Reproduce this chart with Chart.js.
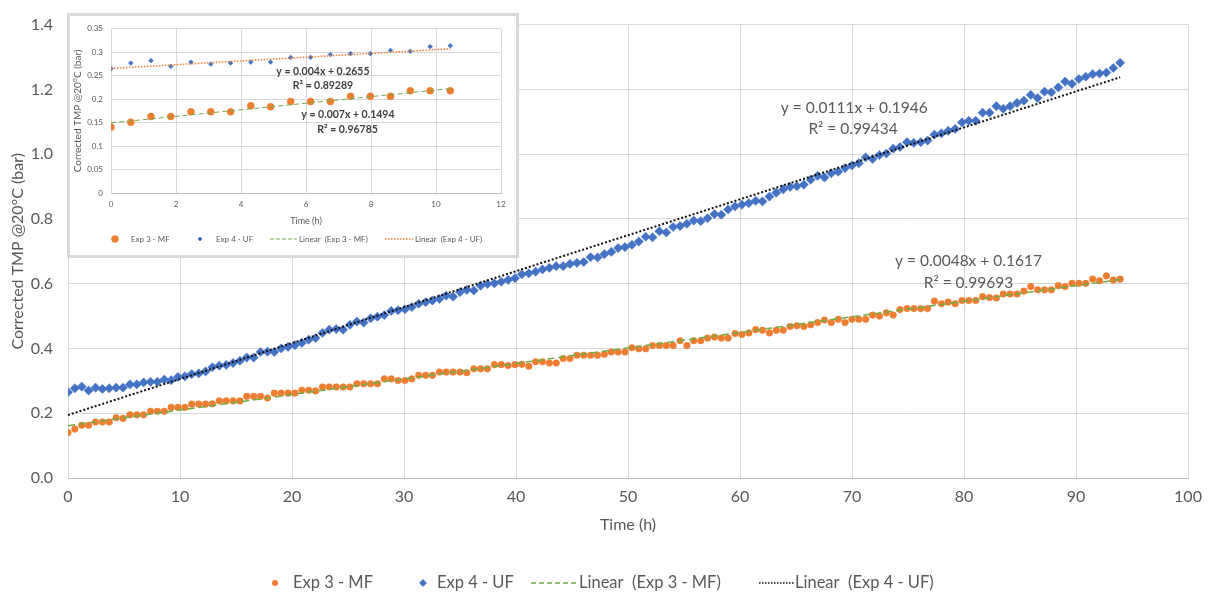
<!DOCTYPE html>
<html>
<head>
<meta charset="utf-8">
<title>Corrected TMP @20°C vs time</title>
<script src="https://cdn.jsdelivr.net/npm/chart.js@4.4.0/dist/chart.umd.min.js"></script>
<style>
  html, body { margin: 0; padding: 0; background: #fff; }
  #wrap { position: relative; width: 1212px; height: 596px; }
  #mainChart { position: absolute; left: 0; top: 0; }
  #insetBox { position: absolute; left: 67px; top: 13px; width: 452px; height: 245px;
              box-sizing: border-box; border: 3px solid #d9d9d9; background: #fff; }
  #insetChart { position: absolute; left: 0; top: 0; }
</style>
</head>
<body>
<div id="wrap">
  <canvas id="mainChart" width="1212" height="596"></canvas>
  <div id="insetBox"><canvas id="insetChart" width="446" height="239"></canvas></div>
</div>
<script>
// readings, one every ~37 min
const timeH = [
  0, 0.61, 1.23, 1.84, 2.46, 3.07, 3.68, 4.30, 4.91, 5.53,
  6.14, 6.75, 7.37, 7.98, 8.60, 9.21, 9.82, 10.44, 11.05, 11.67,
  12.28, 12.89, 13.51, 14.12, 14.74, 15.35, 15.96, 16.58, 17.19, 17.81,
  18.42, 19.03, 19.65, 20.26, 20.88, 21.49, 22.10, 22.72, 23.33, 23.95,
  24.56, 25.17, 25.79, 26.40, 27.02, 27.63, 28.24, 28.86, 29.47, 30.09,
  30.70, 31.31, 31.93, 32.54, 33.16, 33.77, 34.38, 35.00, 35.61, 36.23,
  36.84, 37.45, 38.07, 38.68, 39.30, 39.91, 40.52, 41.14, 41.75, 42.37,
  42.98, 43.59, 44.21, 44.82, 45.44, 46.05, 46.66, 47.28, 47.89, 48.51,
  49.12, 49.73, 50.35, 50.96, 51.58, 52.19, 52.80, 53.42, 54.03, 54.65,
  55.26, 55.87, 56.49, 57.10, 57.72, 58.33, 58.94, 59.56, 60.17, 60.79,
  61.40, 62.01, 62.63, 63.24, 63.86, 64.47, 65.08, 65.70, 66.31, 66.93,
  67.54, 68.15, 68.77, 69.38, 70.00, 70.61, 71.22, 71.84, 72.45, 73.07,
  73.68, 74.29, 74.91, 75.52, 76.14, 76.75, 77.36, 77.98, 78.59, 79.21,
  79.82, 80.43, 81.05, 81.66, 82.28, 82.89, 83.50, 84.12, 84.73, 85.35,
  85.96, 86.57, 87.19, 87.80, 88.42, 89.03, 89.64, 90.26, 90.87, 91.49,
  92.10, 92.71, 93.33, 93.94
];

// Exp 3 - MF, corrected TMP (bar)
const exp3MF = [
  0.140, 0.151, 0.163, 0.163, 0.173, 0.173, 0.173, 0.186, 0.184, 0.195,
  0.195, 0.195, 0.206, 0.206, 0.206, 0.218, 0.218, 0.218, 0.228, 0.228,
  0.228, 0.229, 0.238, 0.238, 0.238, 0.238, 0.252, 0.252, 0.252, 0.247,
  0.262, 0.262, 0.262, 0.262, 0.271, 0.271, 0.269, 0.281, 0.281, 0.281,
  0.281, 0.281, 0.291, 0.291, 0.291, 0.291, 0.306, 0.306, 0.301, 0.301,
  0.306, 0.317, 0.317, 0.317, 0.327, 0.327, 0.327, 0.327, 0.325, 0.337,
  0.337, 0.337, 0.350, 0.350, 0.347, 0.350, 0.351, 0.345, 0.359, 0.359,
  0.355, 0.355, 0.369, 0.369, 0.379, 0.379, 0.379, 0.379, 0.382, 0.389,
  0.389, 0.389, 0.402, 0.399, 0.399, 0.409, 0.409, 0.409, 0.409, 0.424,
  0.409, 0.424, 0.424, 0.432, 0.435, 0.432, 0.432, 0.446, 0.443, 0.448,
  0.458, 0.456, 0.448, 0.456, 0.456, 0.468, 0.470, 0.468, 0.473, 0.480,
  0.488, 0.480, 0.490, 0.480, 0.490, 0.490, 0.490, 0.503, 0.500, 0.510,
  0.503, 0.520, 0.523, 0.523, 0.523, 0.523, 0.546, 0.538, 0.543, 0.538,
  0.548, 0.548, 0.548, 0.560, 0.557, 0.556, 0.568, 0.568, 0.568, 0.577,
  0.591, 0.581, 0.581, 0.581, 0.594, 0.591, 0.601, 0.601, 0.601, 0.614,
  0.609, 0.624, 0.611, 0.614
];

// Exp 4 - UF, corrected TMP (bar)
const exp4UF = [
  0.265, 0.277, 0.282, 0.270, 0.279, 0.275, 0.277, 0.279, 0.279, 0.289,
  0.289, 0.295, 0.297, 0.297, 0.304, 0.302, 0.312, 0.314, 0.321, 0.323,
  0.329, 0.342, 0.347, 0.349, 0.355, 0.362, 0.372, 0.372, 0.389, 0.390,
  0.389, 0.400, 0.405, 0.410, 0.417, 0.427, 0.432, 0.448, 0.458, 0.460,
  0.458, 0.473, 0.483, 0.480, 0.493, 0.498, 0.503, 0.516, 0.518, 0.521,
  0.528, 0.538, 0.543, 0.548, 0.553, 0.563, 0.560, 0.574, 0.581, 0.579,
  0.594, 0.599, 0.601, 0.606, 0.612, 0.617, 0.629, 0.632, 0.637, 0.644,
  0.649, 0.654, 0.654, 0.661, 0.664, 0.667, 0.682, 0.681, 0.691, 0.698,
  0.710, 0.713, 0.720, 0.730, 0.745, 0.743, 0.762, 0.758, 0.775, 0.778,
  0.785, 0.795, 0.793, 0.802, 0.815, 0.813, 0.829, 0.839, 0.844, 0.849,
  0.856, 0.854, 0.869, 0.881, 0.891, 0.899, 0.901, 0.906, 0.921, 0.933,
  0.928, 0.941, 0.946, 0.957, 0.965, 0.972, 0.990, 0.985, 0.997, 1.002,
  1.017, 1.022, 1.037, 1.035, 1.037, 1.042, 1.060, 1.064, 1.072, 1.078,
  1.098, 1.103, 1.103, 1.128, 1.128, 1.148, 1.140, 1.148, 1.158, 1.165,
  1.183, 1.173, 1.193, 1.191, 1.206, 1.224, 1.217, 1.232, 1.239, 1.247,
  1.249, 1.252, 1.266, 1.282
];

// the inset zooms in on the first 18 readings
const insetCount = 18;

// linear fits [MF, UF]
const mainFitSlope = [0.0048, 0.0111];
const mainFitIntercept = [0.1617, 0.1946];
const mainFitR2 = [0.99693, 0.99434];
const insetFitSlope = [0.007, 0.004];
const insetFitIntercept = [0.1494, 0.2655];
const insetFitR2 = [0.96785, 0.89289];

// axis ticks
const mainXTicks = [0, 10, 20, 30, 40, 50, 60, 70, 80, 90, 100];
const mainYTicks = [0, 0.2, 0.4, 0.6, 0.8, 1.0, 1.2, 1.4];
const mainYLabels = ['0.0', '0.2', '0.4', '0.6', '0.8', '1.0', '1.2', '1.4'];
const insetXTicks = [0, 2, 4, 6, 8, 10, 12];
const insetYTicks = [0, 0.05, 0.1, 0.15, 0.2, 0.25, 0.3, 0.35];
const insetYLabels = ['0', '0.05', '0.1', '0.15', '0.2', '0.25', '0.3', '0.35'];

const seriesNames = ['Exp 3 - MF', 'Exp 4 - UF', 'Linear  (Exp 3 - MF)', 'Linear  (Exp 4 - UF)'];

const FONT = "Lato, 'Open Sans', sans-serif";
const TEXT = '#595959';
const ORANGE = '#ED7D31';
const BLUE = '#4472C4';
const GREEN = '#70AD47';
const GRID = '#d9d9d9';

function toPoints(xs, ys, n) {
  const out = [];
  for (let i = 0; i < n; i++) out.push({ x: xs[i], y: ys[i] });
  return out;
}

// straight line of a fit across the measured time range
function fitLine(slope, intercept, x0, x1) {
  return [{ x: x0, y: slope * x0 + intercept }, { x: x1, y: slope * x1 + intercept }];
}

// equation + R² text placed in data coordinates
function fitLabels(id, items, font, color) {
  return {
    id: id,
    afterDatasetsDraw(chart) {
      const ctx = chart.ctx, xs = chart.scales.x, ys = chart.scales.y;
      ctx.save();
      ctx.font = font;
      ctx.fillStyle = color;
      ctx.textAlign = 'center';
      ctx.textBaseline = 'middle';
      items.forEach(it => {
        ctx.fillText('y = ' + it.slope + 'x + ' + it.intercept, xs.getPixelForValue(it.eq[0]), ys.getPixelForValue(it.eq[1]));
        ctx.fillText('R² = ' + it.r2, xs.getPixelForValue(it.rr[0]), ys.getPixelForValue(it.rr[1]));
      });
      ctx.restore();
    }
  };
}

// legend row under the plot
function legendRow(id, cfg) {
  return {
    id: id,
    afterDraw(chart) {
      const ctx = chart.ctx, y = cfg.y;
      ctx.save();
      ctx.font = cfg.font;
      ctx.textBaseline = 'middle';
      ctx.textAlign = 'left';
      cfg.items.forEach(it => {
        ctx.save();
        if (it.dash) {
          ctx.strokeStyle = it.color;
          ctx.lineWidth = it.width;
          ctx.setLineDash(it.dash);
          ctx.beginPath();
          ctx.moveTo(it.x1, y);
          ctx.lineTo(it.x2, y);
          ctx.stroke();
        } else {
          ctx.fillStyle = it.color;
          ctx.strokeStyle = it.color;
          Chart.helpers.drawPoint(ctx, { pointStyle: it.style, radius: it.radius, borderWidth: 0.5, rotation: 0 }, it.x, y);
        }
        ctx.restore();
        ctx.fillStyle = cfg.color;
        ctx.fillText(it.text, it.textX, y);
      });
      ctx.restore();
    }
  };
}

const n = timeH.length;
const tEnd = timeH[n - 1];
const tInsetEnd = timeH[insetCount - 1];

// ---- main chart ----
new Chart(document.getElementById('mainChart'), {
  type: 'scatter',
  data: {
    datasets: [
      { label: seriesNames[0], data: toPoints(timeH, exp3MF, n), order: 2,
        pointStyle: 'circle', pointRadius: 3.3, backgroundColor: ORANGE, borderColor: ORANGE, borderWidth: 0.5 },
      { label: seriesNames[1], data: toPoints(timeH, exp4UF, n), order: 2,
        pointStyle: 'rectRot', pointRadius: 4.6, backgroundColor: BLUE, borderColor: BLUE, borderWidth: 0.5 },
      { label: seriesNames[2], data: fitLine(mainFitSlope[0], mainFitIntercept[0], 0, tEnd), order: 1,
        showLine: true, pointRadius: 0, borderColor: GREEN, borderWidth: 1.5, borderDash: [7, 4], fill: false },
      { label: seriesNames[3], data: fitLine(mainFitSlope[1], mainFitIntercept[1], 0, tEnd), order: 0,
        showLine: true, pointRadius: 0, borderColor: '#111', borderWidth: 2, borderDash: [2, 2], fill: false }
    ]
  },
  options: {
    responsive: false,
    animation: false,
    devicePixelRatio: 1,
    events: [],
    layout: { padding: { top: 15, right: 24, left: 0, bottom: 0 } },
    plugins: { legend: { display: false }, tooltip: { enabled: false } },
    scales: {
      x: {
        type: 'linear', min: 0, max: 100,
        afterBuildTicks: s => { s.ticks = mainXTicks.map(v => ({ value: v })); },
        afterFit: s => { s.height = 118; },
        ticks: { padding: 9, color: TEXT, font: { family: FONT, size: 16 }, maxRotation: 0, autoSkip: false,
                 callback: (v, i) => String(mainXTicks[i]) },
        grid: { color: GRID, lineWidth: 1, drawTicks: false },
        border: { color: '#bfbfbf', width: 1 },
        title: { display: true, text: 'Time (h)', color: TEXT, font: { family: FONT, size: 16 },
                 padding: { top: 0, bottom: 62 } }
      },
      y: {
        type: 'linear', min: 0, max: 1.4,
        afterBuildTicks: s => { s.ticks = mainYTicks.map(v => ({ value: v })); },
        afterFit: s => { s.width = 68; },
        ticks: { padding: 15, color: TEXT, font: { family: FONT, size: 16 }, autoSkip: false,
                 callback: (v, i) => mainYLabels[i] },
        grid: { color: GRID, lineWidth: 1, drawTicks: false },
        border: { color: GRID, width: 1 },
        title: { display: true, text: 'Corrected TMP @20°C (bar)', color: TEXT, font: { family: FONT, size: 16 },
                 padding: { top: 8, bottom: 0 } }
      }
    }
  },
  plugins: [
    fitLabels('mainFits', [
      { slope: mainFitSlope[0], intercept: mainFitIntercept[0], r2: mainFitR2[0], eq: [80.4, 0.671], rr: [80.4, 0.602] },
      { slope: mainFitSlope[1], intercept: mainFitIntercept[1], r2: mainFitR2[1], eq: [70.2, 1.143], rr: [70.1, 1.077] }
    ], '15.5px ' + FONT, TEXT),
    legendRow('mainLegend', {
      y: 583, font: '16.5px ' + FONT, color: TEXT,
      items: [
        { style: 'circle', radius: 2.6, color: ORANGE, x: 275, textX: 293, text: seriesNames[0] },
        { style: 'rectRot', radius: 3.4, color: BLUE, x: 423, textX: 437, text: seriesNames[1] },
        { dash: [5, 3], width: 1.5, color: GREEN, x1: 531, x2: 576, textX: 579, text: seriesNames[2] },
        { dash: [1.5, 1.5], width: 1.5, color: '#111', x1: 759, x2: 794, textX: 795, text: seriesNames[3] }
      ]
    })
  ]
});

// ---- inset: first 10 h ----
new Chart(document.getElementById('insetChart'), {
  type: 'scatter',
  data: {
    datasets: [
      { label: seriesNames[0], data: toPoints(timeH, exp3MF, insetCount), order: 2,
        pointStyle: 'circle', pointRadius: 3.5, backgroundColor: ORANGE, borderColor: ORANGE, borderWidth: 0.5 },
      { label: seriesNames[1], data: toPoints(timeH, exp4UF, insetCount), order: 2,
        pointStyle: 'rectRot', pointRadius: 2.4, backgroundColor: BLUE, borderColor: BLUE, borderWidth: 0.5 },
      { label: seriesNames[2], data: fitLine(insetFitSlope[0], insetFitIntercept[0], 0, tInsetEnd), order: 1,
        showLine: true, pointRadius: 0, borderColor: GREEN, borderWidth: 1, borderDash: [5, 3], fill: false },
      { label: seriesNames[3], data: fitLine(insetFitSlope[1], insetFitIntercept[1], 0, tInsetEnd), order: 0,
        showLine: true, pointRadius: 0, borderColor: ORANGE, borderWidth: 1.5, borderDash: [1.5, 1.5], fill: false }
    ]
  },
  options: {
    responsive: false,
    animation: false,
    devicePixelRatio: 1,
    events: [],
    layout: { padding: { top: 6, right: 15, left: 0, bottom: 0 } },
    plugins: { legend: { display: false }, tooltip: { enabled: false } },
    scales: {
      x: {
        type: 'linear', min: 0, max: 12,
        afterBuildTicks: s => { s.ticks = insetXTicks.map(v => ({ value: v })); },
        afterFit: s => { s.height = 62; },
        ticks: { padding: 7, color: TEXT, font: { family: FONT, size: 8 }, maxRotation: 0, autoSkip: false,
                 callback: (v, i) => String(insetXTicks[i]) },
        grid: { color: GRID, lineWidth: 1, drawTicks: false },
        border: { color: '#bfbfbf', width: 1 },
        title: { display: true, text: 'Time (h)', color: TEXT, font: { family: FONT, size: 9 },
                 padding: { top: 0, bottom: 29 } }
      },
      y: {
        type: 'linear', min: 0, max: 0.35,
        afterBuildTicks: s => { s.ticks = insetYTicks.map(v => ({ value: v })); },
        afterFit: s => { s.width = 41; },
        ticks: { padding: 8, color: TEXT, font: { family: FONT, size: 8 }, autoSkip: false,
                 callback: (v, i) => insetYLabels[i] },
        grid: { color: GRID, lineWidth: 1, drawTicks: false },
        border: { color: GRID, width: 1 },
        title: { display: true, text: 'Corrected TMP @20°C (bar)', color: TEXT, font: { family: FONT, size: 10 },
                 padding: { top: 2, bottom: 0 } }
      }
    }
  },
  plugins: [
    fitLabels('insetFits', [
      { slope: insetFitSlope[0], intercept: insetFitIntercept[0], r2: insetFitR2[0], eq: [7.29, 0.168], rr: [7.28, 0.135] },
      { slope: insetFitSlope[1], intercept: insetFitIntercept[1], r2: insetFitR2[1], eq: [6.52, 0.258], rr: [6.52, 0.2286] }
    ], 'bold 10.5px ' + FONT, '#404040'),
    legendRow('insetLegend', {
      y: 223, font: '8px ' + FONT, color: TEXT,
      items: [
        { style: 'circle', radius: 3.3, color: ORANGE, x: 45, textX: 61, text: seriesNames[0] },
        { style: 'rectRot', radius: 2, color: BLUE, x: 130, textX: 146, text: seriesNames[1] },
        { dash: [4, 2], width: 1, color: GREEN, x1: 200, x2: 227, textX: 229, text: seriesNames[2] },
        { dash: [1.5, 1.5], width: 1.5, color: ORANGE, x1: 315, x2: 343, textX: 345, text: seriesNames[3] }
      ]
    })
  ]
});
</script>
</body>
</html>
